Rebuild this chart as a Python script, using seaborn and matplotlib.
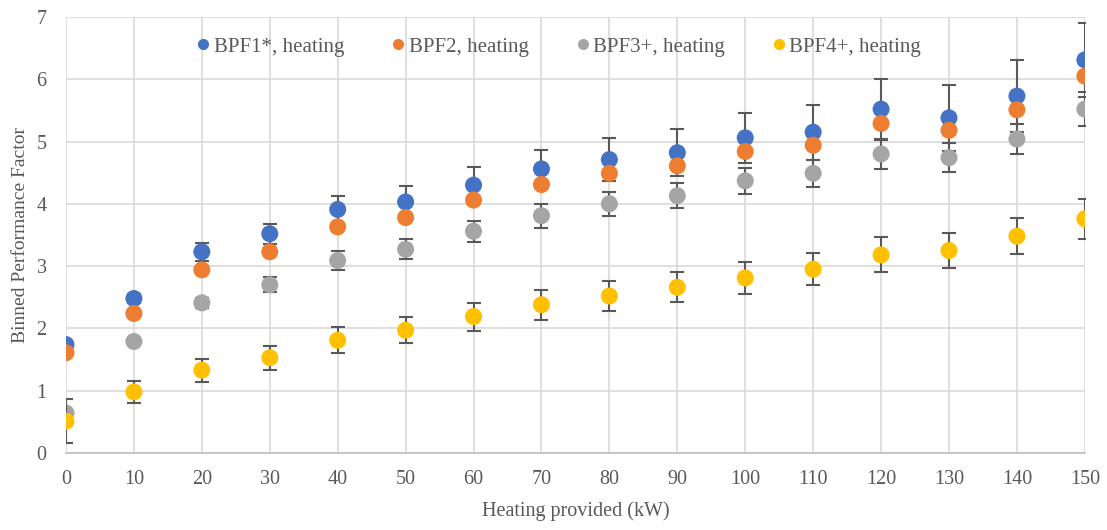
import numpy as np
import pandas as pd
import matplotlib
matplotlib.use("Agg")
import matplotlib.pyplot as plt
import seaborn as sns

heating_kw = [0, 10, 20, 30, 40, 50, 60, 70, 80, 90, 100, 110, 120, 130, 140, 150]

bpf1 = [1.74, 2.48, 3.23, 3.52, 3.91, 4.03, 4.30, 4.56, 4.71, 4.82, 5.06, 5.15, 5.52, 5.38, 5.73, 6.31]
bpf1_err = [0.05, 0.08, 0.14, 0.16, 0.22, 0.25, 0.29, 0.30, 0.35, 0.38, 0.40, 0.44, 0.49, 0.53, 0.58, 0.60]

bpf2 = [1.61, 2.24, 2.94, 3.23, 3.63, 3.78, 4.06, 4.31, 4.49, 4.61, 4.84, 4.94, 5.29, 5.18, 5.51, 6.05]

bpf3 = [0.64, 1.79, 2.41, 2.70, 3.09, 3.27, 3.56, 3.81, 4.00, 4.13, 4.37, 4.49, 4.80, 4.74, 5.04, 5.52]
bpf3_err = [0.04, 0.05, 0.08, 0.12, 0.15, 0.16, 0.17, 0.19, 0.19, 0.20, 0.21, 0.22, 0.24, 0.23, 0.245, 0.27]

bpf4 = [0.51, 0.98, 1.33, 1.53, 1.81, 1.97, 2.19, 2.38, 2.52, 2.66, 2.81, 2.95, 3.18, 3.25, 3.48, 3.76]
bpf4_err = [0.35, 0.17, 0.185, 0.19, 0.21, 0.21, 0.225, 0.24, 0.24, 0.24, 0.25, 0.26, 0.28, 0.275, 0.29, 0.32]

series_names = ["BPF1*, heating", "BPF2, heating", "BPF3+, heating", "BPF4+, heating"]
colors = ["#4472C4", "#ED7D31", "#A5A5A5", "#FFC000"]
x_ticks = list(range(0, 151, 10))
y_ticks = list(range(0, 8))

values = [bpf1, bpf2, bpf3, bpf4]
errors = [bpf1_err, None, bpf3_err, bpf4_err]

df = pd.concat([
    pd.DataFrame({"x": heating_kw, "y": v, "series": n})
    for v, n in zip(values, series_names)
], ignore_index=True)

sns.set_theme(style="white")
plt.rcParams["font.family"] = ["Liberation Serif", "DejaVu Serif"]

fig = plt.figure(figsize=(11.07, 5.30), dpi=100)
ax = fig.add_axes([0.0596, 0.1453, 0.9204, 0.8227])

text_col = "#595959"
grid_col = "#D9D9D9"

for i, (v, e, c, n) in enumerate(zip(values, errors, colors, series_names)):
    if e is not None:
        ax.errorbar(heating_kw, v, yerr=e, fmt="none", ecolor="#595959",
                    elinewidth=1.5, capsize=5, capthick=1.5, zorder=3 + 2 * i)
    sns.scatterplot(data=df[df["series"] == n], x="x", y="y", color=c, s=150,
                    edgecolor="none", ax=ax, zorder=4 + 2 * i, label=n, legend=False)

ax.set_xlim(0, 150)
ax.set_ylim(0, 7)
ax.set_xticks(x_ticks)
ax.set_yticks(y_ticks)
ax.grid(True, color=grid_col, linewidth=1.2, zorder=0)
ax.set_axisbelow(True)
for s in ["top", "right", "left"]:
    ax.spines[s].set_visible(False)
ax.spines["bottom"].set_color("#BFBFBF")
ax.spines["bottom"].set_linewidth(1.2)
ax.tick_params(axis="x", length=0, labelsize=14.5, colors=text_col, pad=12)
ax.tick_params(axis="y", length=0, labelsize=14.5, colors=text_col, pad=14)

ax.set_xlabel("Heating provided (kW)", fontsize=14.5, color=text_col, labelpad=9)
ax.set_ylabel("Binned Performance Factor", fontsize=14, color=text_col, labelpad=5)

handles = [plt.Line2D([], [], marker="o", linestyle="none", markersize=8,
                      markerfacecolor=c, markeredgecolor="none") for c in colors]
leg = ax.legend(handles, series_names, loc="upper center", ncol=4, frameon=False,
                fontsize=15, handletextpad=0.0, columnspacing=2.1,
                bbox_to_anchor=(0.482, 0.997), labelcolor=text_col, handlelength=1.0)

fig.savefig("out.png", dpi=100, facecolor="white")
